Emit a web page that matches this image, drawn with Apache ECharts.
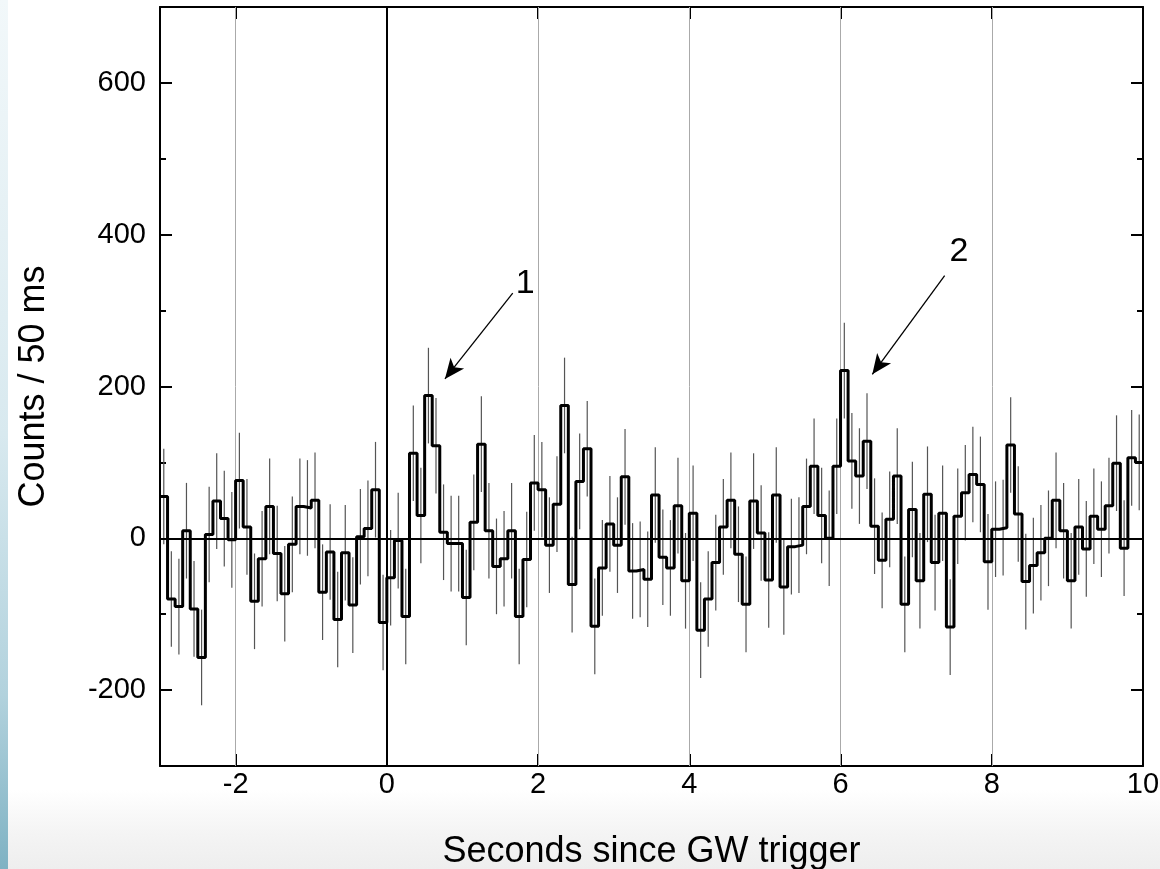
<!DOCTYPE html>
<html><head><meta charset="utf-8">
<script src="https://cdn.jsdelivr.net/npm/echarts@6/dist/echarts.min.js"></script>
<style>html,body{margin:0;padding:0;background:#fff}#c{width:1160px;height:869px}</style>
</head><body><div id="c"></div>
<script>
// ---- data ----
const binStart = -3.0;
const binWidth = 0.1;
const counts = [
  55, -80, -90, 10, -93, -157, 5, 49, 26, -2, 76, 15, -83, -27, 42, -20,
  -73, -8, 42, 40, 50, -71, -18, -107, -19, -88, 2, 13, 64, -111, -52, -3,
  -103, 112, 30, 188, 122, 8, -7, -7, -78, 21, 124, 10, -37, -27, 10, -103,
  -28, 73, 64, -9, 45, 175, -61, 75, 118, -116, -39, 19, -9, 81, -43, -41,
  -54, 57, -25, -39, 43, -56, 33, -121, -80, -32, 15, 50, -21, -87, 49, 7,
  -55, 57, -64, -11, -9, 42, 95, 30, 0, 95, 221, 102, 82, 128, 16, -29,
  25, 82, -87, 38, -56, 58, -32, 33, -117, 29, 60, 84, 71, -31, 12, 14,
  123, 32, -57, -36, -19, 0, 50, 10, -56, 15, -14, 29, 12, 43, 99, -13, 106, 100
];
const errHalf = 63;
const xTickLabels = [-2, 0, 2, 4, 6, 8, 10];
const yTickLabels = [-200, 0, 200, 400, 600];
const xGridLines = [-2, 2, 4, 6, 8];
const arrowStarts = [[1.665, 323], [7.377, 346]];
const arrowEnds = [[0.768, 210], [6.42, 216]];
const arrowLabels = ['1', '2'];
const arrowLabelPos = [[1.83, 336], [7.567, 378]];

// ---- build ----
const r2 = v => Math.round(v * 1000) / 1000;
const stepData = counts.map((v, i) => [r2(binStart + i * binWidth), v]);
stepData.push([r2(binStart + counts.length * binWidth), counts[counts.length - 1]]);
const errData = counts.map((v, i) => [r2(binStart + (i + 0.5) * binWidth), v - errHalf, v + errHalf]);

const FONT = '"Liberation Sans", Arial, sans-serif';
const chart = echarts.init(document.getElementById('c'), null, {renderer: 'canvas'});

const yBase = {
  type: 'value', min: -300, max: 700, interval: 100,
  splitLine: {show: false}
};
const axLine = {show: true, onZero: false, lineStyle: {color: '#000', width: 2}};

chart.setOption({
  animation: false,
  backgroundColor: '#fff',
  graphic: [
    {type: 'rect', left: 0, top: 790, shape: {width: 1160, height: 79}, z: -10, silent: true,
     style: {fill: new echarts.graphic.LinearGradient(0, 0, 0, 1, [
       {offset: 0, color: '#ffffff'}, {offset: 0.55, color: '#f4f4f4'}, {offset: 1, color: '#eeeeee'}])}},
    {type: 'rect', left: 0, top: 0, shape: {width: 8, height: 869}, z: -9, silent: true,
     style: {fill: new echarts.graphic.LinearGradient(0, 0, 0, 1, [
       {offset: 0, color: '#f2f8fa'}, {offset: 0.5, color: '#d8e9ef'}, {offset: 0.8, color: '#b2d2dd'}, {offset: 1, color: '#7fb2c3'}])}}
  ],
  grid: {left: 160, right: 17, top: 7, bottom: 103, containLabel: false, outerBoundsMode: 'none'},
  xAxis: [
    {type: 'value', min: -3, max: 10, interval: 1, position: 'bottom',
     axisLine: axLine,
     axisTick: {show: true, inside: true, length: 12, customValues: xTickLabels, lineStyle: {color: '#000', width: 2}},
     axisLabel: {customValues: xTickLabels, color: '#000', fontFamily: FONT, fontSize: 29, margin: 4},
     splitLine: {show: false},
     name: 'Seconds since GW trigger', nameLocation: 'middle', nameGap: 68,
     nameTextStyle: {color: '#000', fontFamily: FONT, fontSize: 36}},
    {type: 'value', min: -3, max: 10, interval: 1, position: 'top',
     axisLine: axLine,
     axisTick: {show: true, inside: true, length: 12, customValues: xTickLabels, lineStyle: {color: '#000', width: 2}},
     axisLabel: {show: false}, splitLine: {show: false}}
  ],
  yAxis: [
    Object.assign({}, yBase, {position: 'left',
     axisLine: axLine,
     axisTick: {show: true, inside: true, length: 6, lineStyle: {color: '#000', width: 2}},
     axisLabel: {show: false}}),
    Object.assign({}, yBase, {position: 'left',
     axisLine: {show: false, onZero: false},
     axisTick: {show: true, inside: true, length: 12, customValues: yTickLabels, lineStyle: {color: '#000', width: 2}},
     axisLabel: {customValues: yTickLabels, color: '#000', fontFamily: FONT, fontSize: 29, margin: 14},
     name: 'Counts / 50 ms', nameLocation: 'middle', nameGap: 108, nameRotate: 90,
     nameTextStyle: {color: '#000', fontFamily: FONT, fontSize: 36}}),
    Object.assign({}, yBase, {position: 'right',
     axisLine: axLine,
     axisTick: {show: true, inside: true, length: 6, lineStyle: {color: '#000', width: 2}},
     axisLabel: {show: false}}),
    Object.assign({}, yBase, {position: 'right',
     axisLine: {show: false, onZero: false},
     axisTick: {show: true, inside: true, length: 12, customValues: yTickLabels, lineStyle: {color: '#000', width: 2}},
     axisLabel: {show: false}})
  ],
  series: [
    {
      type: 'custom', name: 'err', xAxisIndex: 0, yAxisIndex: 0, z: 3,
      data: errData, clip: true,
      renderItem: function (params, api) {
        const p1 = api.coord([api.value(0), api.value(1)]);
        const p2 = api.coord([api.value(0), api.value(2)]);
        return {type: 'line', shape: {x1: p1[0], y1: p1[1], x2: p2[0], y2: p2[1]},
                style: {stroke: '#555', lineWidth: 1.2}};
      },
      markLine: {
        silent: true, symbol: ['none', 'none'], label: {show: false}, z: 1,
        lineStyle: {color: '#aaa', width: 1, type: 'solid'},
        data: xGridLines.map(v => ({xAxis: v}))
      }
    },
    {
      type: 'line', name: 'counts', xAxisIndex: 0, yAxisIndex: 0, z: 5,
      data: stepData, step: 'end', showSymbol: false, symbol: 'none',
      lineStyle: {color: '#000', width: 3}, clip: true,
      markLine: {
        silent: true, symbol: ['none', 'none'], label: {show: false},
        lineStyle: {color: '#000', width: 2, type: 'solid'},
        data: [{xAxis: 0}, {yAxis: 0}]
      }
    },
    {
      type: 'custom', name: 'ann', xAxisIndex: 0, yAxisIndex: 0, z: 6,
      data: arrowLabelPos.map((p, i) => [p[0], p[1], i]),
      renderItem: function (params, api) {
        const p = api.coord([api.value(0), api.value(1)]);
        return {type: 'text', x: p[0], y: p[1],
                style: {text: arrowLabels[api.value(2)], fill: '#000', font: '34px ' + FONT,
                        align: 'center', verticalAlign: 'middle'}};
      },
      markLine: {
        silent: true, symbol: ['none', 'arrow'], symbolSize: [13, 20], label: {show: false},
        lineStyle: {color: '#000', width: 1.3, type: 'solid', opacity: 1},
        data: arrowStarts.map((s, i) => [{coord: s}, {coord: arrowEnds[i]}])
      }
    }
  ]
});
</script></body></html>
